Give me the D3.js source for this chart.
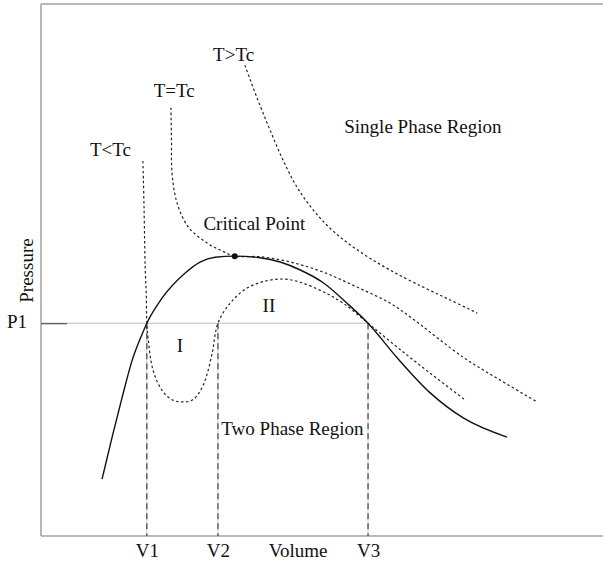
<!DOCTYPE html>
<html>
<head>
<meta charset="utf-8">
<script src="https://cdn.jsdelivr.net/npm/d3@7"></script>
<style>
    body { margin: 0; background: #fff; }
    svg text { font-family: "Liberation Serif", "Times New Roman", serif; font-size: 19px; fill: #111; }
    .frame { stroke: #a0a0a0; stroke-width: 1.5; }
    .dome { fill: none; stroke: #111; stroke-width: 1.4; }
    .isotherm { fill: none; stroke: #222; stroke-width: 1.2; stroke-dasharray: 2.5,2.5; }
</style>
</head>
<body>
<div id="chart"></div>
<script>
// saturation dome (solid)
const domeVolume   = [1.09, 1.27, 1.45, 1.63, 1.80, 1.89, 2.16, 2.57, 2.84, 3.11, 3.46, 3.91, 4.27, 4.63, 5.04, 5.46, 5.84, 6.36, 6.95, 7.54, 8.32];
const domePressure = [1.07, 1.86, 2.61, 3.31, 3.78, 4.00, 4.47, 4.94, 5.15, 5.24, 5.26, 5.23, 5.15, 5.00, 4.76, 4.38, 4.00, 3.35, 2.69, 2.22, 1.86];

// isotherms (dotted)
const tAboveVolume   = [3.64, 3.86, 4.09, 4.32, 4.57, 4.89, 5.25, 5.70, 6.23, 6.82, 7.30, 7.79];
const tAbovePressure = [8.85, 8.23, 7.63, 7.07, 6.56, 6.09, 5.70, 5.34, 5.00, 4.68, 4.44, 4.19];

const tCritVolume   = [2.32, 2.33, 2.34, 2.43, 2.63, 2.96, 3.23, 3.46, 3.91, 4.45, 5.04, 5.64, 6.23, 6.59, 7.54, 8.20, 8.86];
const tCritPressure = [8.05, 7.44, 6.82, 6.26, 5.81, 5.51, 5.36, 5.26, 5.25, 5.15, 4.96, 4.68, 4.38, 4.12, 3.36, 2.93, 2.52];

const tBelowVolume   = [1.82, 1.84, 1.86, 1.88, 1.89, 1.91, 2.00, 2.16, 2.34, 2.54, 2.71, 2.89, 3.05, 3.16, 3.38, 3.68, 4.00, 4.32, 4.63, 5.04, 5.39, 5.84, 6.36, 6.95, 7.57];
const tBelowPressure = [7.05, 6.18, 5.06, 4.53, 4.00, 3.74, 3.12, 2.74, 2.56, 2.52, 2.56, 2.82, 3.40, 4.00, 4.38, 4.66, 4.79, 4.83, 4.77, 4.59, 4.38, 4.00, 3.55, 3.06, 2.56];

const criticalPoint = [3.46, 5.26];
const p1 = 4.00;
const volumeTicks = [1.89, 3.16, 5.84];
const volumeTickLabels = ['V1', 'V2', 'V3'];

const annotations = [
    { text: 'T>Tc', v: 3.44, p: 8.93 },
    { text: 'T=Tc', v: 2.38, p: 8.25 },
    { text: 'T<Tc', v: 1.24, p: 7.14 },
    { text: 'Single Phase Region', v: 6.82, p: 7.58 },
    { text: 'Critical Point', v: 3.81, p: 5.75 },
    { text: 'II', v: 4.07, p: 4.21 },
    { text: 'I', v: 2.48, p: 3.46 },
    { text: 'Two Phase Region', v: 4.49, p: 1.90 }
];

const width = 603;
const height = 565;

const x = d3.scaleLinear().domain([0, 10]).range([41, 601]);
const y = d3.scaleLinear().domain([0, 10]).range([536, 4]);

const svg = d3.select('#chart').append('svg')
    .attr('width', width)
    .attr('height', height);

const zip = (vs, ps) => vs.map((v, i) => [v, ps[i]]);
const line = d3.line()
    .x(d => x(d[0]))
    .y(d => y(d[1]))
    .curve(d3.curveCatmullRom.alpha(0.5));
// the dome is a function of volume, monotone spline keeps it smooth
const domeLine = d3.line()
    .x(d => x(d[0]))
    .y(d => y(d[1]))
    .curve(d3.curveMonotoneX);

// frame: left axis, top border, bottom axis
svg.append('line').attr('class', 'frame')
    .attr('x1', x(0)).attr('x2', x(0)).attr('y1', y(10)).attr('y2', y(0));
svg.append('line').attr('class', 'frame')
    .attr('x1', x(0)).attr('x2', width).attr('y1', y(10)).attr('y2', y(10));
svg.append('line').attr('class', 'frame')
    .attr('x1', x(0)).attr('x2', width).attr('y1', y(0)).attr('y2', y(0));

// P1 guide line up to V3
svg.append('line')
    .attr('x1', x(0)).attr('x2', x(volumeTicks[2]))
    .attr('y1', y(p1)).attr('y2', y(p1))
    .attr('stroke', '#bdbdbd').attr('stroke-width', 1);

// drop lines from P1 to the volume axis
const drops = svg.append('g');
drops.selectAll('line.light')
    .data(volumeTicks)
    .join('line')
        .attr('class', 'light')
        .attr('x1', d => x(d)).attr('x2', d => x(d))
        .attr('y1', y(p1)).attr('y2', y(0))
        .attr('stroke', '#c4c4c4').attr('stroke-width', 0.8);
drops.selectAll('line.dash')
    .data(volumeTicks)
    .join('line')
        .attr('class', 'dash')
        .attr('x1', d => x(d)).attr('x2', d => x(d))
        .attr('y1', y(p1)).attr('y2', y(0))
        .attr('stroke', '#333').attr('stroke-width', 1.1)
        .attr('stroke-dasharray', '6,4');

// axes (labels only, frame drawn above)
const xAxis = d3.axisBottom(x)
    .tickValues(volumeTicks)
    .tickFormat((d, i) => volumeTickLabels[i])
    .tickSize(0)
    .tickPadding(8);
const gx = svg.append('g').attr('transform', `translate(0,${y(0)})`).call(xAxis);
gx.select('.domain').remove();
gx.selectAll('text').attr('font-size', null).attr('font-family', null).attr('fill', null);

const yAxis = d3.axisLeft(y)
    .tickValues([p1])
    .tickFormat(() => 'P1')
    .tickSize(-26)
    .tickPadding(14);
const gy = svg.append('g').attr('transform', `translate(${x(0)},0)`).call(yAxis);
gy.select('.domain').remove();
gy.selectAll('.tick line').attr('stroke', '#555').attr('stroke-width', 1.2);
gy.selectAll('text').attr('font-size', null).attr('font-family', null).attr('fill', null).attr('dy', '0.25em');

svg.append('text')
    .attr('x', x(4.59)).attr('y', 557)
    .attr('text-anchor', 'middle')
    .text('Volume');

svg.append('text')
    .attr('transform', `translate(33,${y(4.99)}) rotate(-90)`)
    .attr('text-anchor', 'middle')
    .text('Pressure');

// curves
svg.append('path').attr('class', 'isotherm').attr('d', line(zip(tAboveVolume, tAbovePressure)));
svg.append('path').attr('class', 'isotherm').attr('d', line(zip(tCritVolume, tCritPressure)));
svg.append('path').attr('class', 'isotherm').attr('d', line(zip(tBelowVolume, tBelowPressure)));
svg.append('path').attr('class', 'dome').attr('d', domeLine(zip(domeVolume, domePressure)));

svg.append('circle')
    .attr('cx', x(criticalPoint[0]))
    .attr('cy', y(criticalPoint[1]))
    .attr('r', 3)
    .attr('fill', '#111');

// annotations
svg.selectAll('text.note')
    .data(annotations)
    .join('text')
        .attr('class', 'note')
        .attr('x', d => x(d.v))
        .attr('y', d => y(d.p))
        .attr('text-anchor', 'middle')
        .text(d => d.text);
</script>
</body>
</html>
